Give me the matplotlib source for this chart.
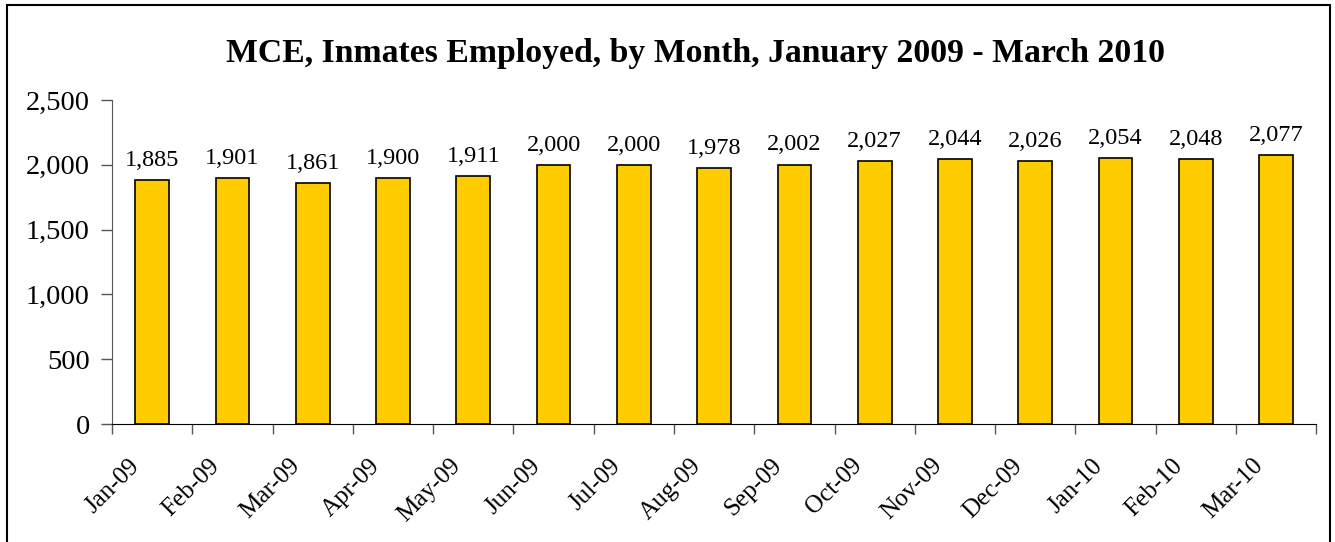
import matplotlib
matplotlib.use("Agg")
import matplotlib.pyplot as plt
import matplotlib.transforms as mtransforms
from matplotlib.patches import Rectangle

months = ['Jan-09', 'Feb-09', 'Mar-09', 'Apr-09', 'May-09', 'Jun-09', 'Jul-09', 'Aug-09',
          'Sep-09', 'Oct-09', 'Nov-09', 'Dec-09', 'Jan-10', 'Feb-10', 'Mar-10']
inmates = [1885, 1901, 1861, 1900, 1911, 2000, 2000, 1978, 2002, 2027, 2044, 2026, 2054, 2048, 2077]
yticks = [0, 500, 1000, 1500, 2000, 2500]

plt.rcParams['font.family'] = ['Liberation Serif', 'DejaVu Serif']

fig = plt.figure(figsize=(13.35, 5.42), dpi=100)
ax = fig.add_axes([0.0839, 0.2177, 0.9021, 0.5978])

x = list(range(len(months)))
ax.bar(x, inmates, width=0.42, color='#FFCC00', edgecolor='black', linewidth=1.2, zorder=2)
for xi, v in zip(x, inmates):
    ax.text(xi, v + 70, f'{v:,}', ha='center', va='bottom', fontsize=17.5)

ax.set_xlim(-0.5, len(months) - 0.5)
ax.set_ylim(0, 2500)
ax.set_yticks(yticks)
ax.set_yticklabels([f'{t:,}' for t in yticks], fontsize=20.5)
ax.tick_params(axis='y', direction='out', length=8, width=1, color='#555555', pad=8)

ax.set_xticks(x)
ax.set_xticklabels(months, rotation=45, ha='right', rotation_mode='anchor', fontsize=18)
ax.tick_params(axis='x', length=0, pad=22)
shift = mtransforms.ScaledTranslation(-24 / 100, 0, fig.dpi_scale_trans)
for lbl in ax.get_xticklabels():
    lbl.set_transform(lbl.get_transform() + shift)
ax.set_xticks([i - 0.5 for i in range(len(months) + 1)], minor=True)
ax.tick_params(axis='x', which='minor', direction='out', length=7, width=1, color='#555555')

for s in ['top', 'right']:
    ax.spines[s].set_visible(False)
ax.spines['left'].set_color('#555555')
ax.spines['bottom'].set_color('black')

ax.set_title('MCE, Inmates Employed, by Month, January 2009 - March 2010',
             fontsize=24.3, fontweight='bold', pad=27, x=0.4846)

fig.patches.append(Rectangle((7 / 1335, -0.02), (1330 - 7) / 1335, 1 - 5 / 542 + 0.02,
                             transform=fig.transFigure, fill=False, edgecolor='black',
                             linewidth=1.5, clip_on=False))

fig.savefig('out.png', dpi=100)
